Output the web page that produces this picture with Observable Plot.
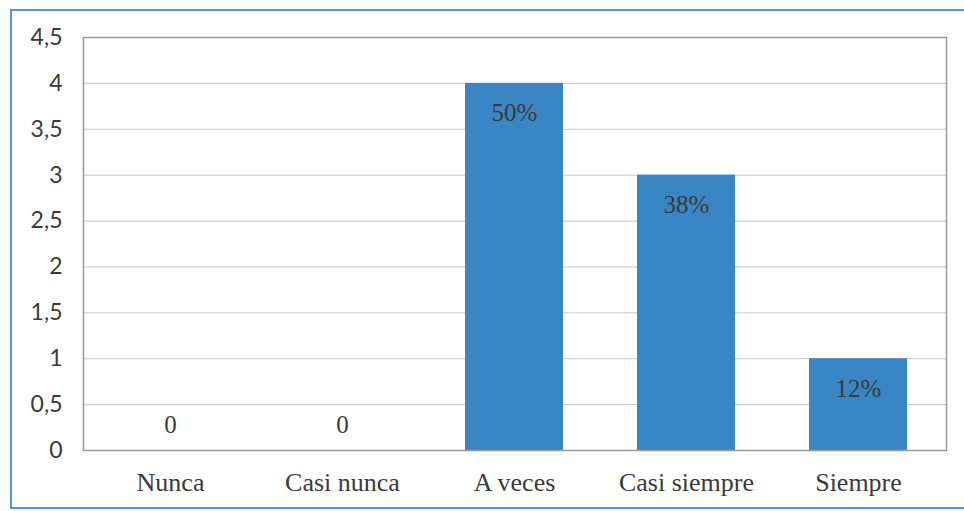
<!DOCTYPE html>
<html>
<head>
<meta charset="utf-8">
<script src="https://cdn.jsdelivr.net/npm/d3@7"></script>
<script src="https://cdn.jsdelivr.net/npm/@observablehq/plot@0.6"></script>
<style>
  html, body { margin: 0; padding: 0; background: #fff; overflow: hidden; width: 964px; height: 511px; }
  #wrap { position: relative; width: 964px; height: 511px; }
  #border { position: absolute; left: 10px; top: 9px; width: 970px; height: 496px; border: 2px solid #4f97e3; box-sizing: content-box; }
  #chart { position: absolute; left: 0; top: 0; }
</style>
</head>
<body>
<div id="wrap"><div id="border"></div><div id="chart"></div></div>
<script>
const categories = ["Nunca", "Casi nunca", "A veces", "Casi siempre", "Siempre"];
const values = [0, 0, 4, 3, 1];
const labels = ["0", "0", "50%", "38%", "12%"];
const yTicks = [0, 0.5, 1, 1.5, 2, 2.5, 3, 3.5, 4, 4.5];

const data = categories.map((c, i) => ({category: c, value: values[i], label: labels[i]}));
const fmt = v => String(v).replace(".", ",");

const chart = Plot.plot({
  width: 964,
  height: 511,
  marginLeft: 83,
  marginRight: 18,
  marginTop: 37,
  marginBottom: 61,
  style: {background: "transparent", color: "#3a3a3a"},
  x: {domain: categories, paddingInner: 0.43, paddingOuter: 0.215, label: null},
  y: {domain: [0, 4.5], label: null},
  marks: [
    Plot.ruleY(yTicks, {stroke: "#c6c2cc", strokeWidth: 1}),
    Plot.barY(data, {x: "category", y: "value", fill: "#3a86c5"}),
    Plot.frame({stroke: "#999", strokeWidth: 1.5}),
    Plot.axisY({ticks: yTicks, tickFormat: fmt, tickSize: 0, tickPadding: 21, fontSize: 23, fontFamily: "Lato", label: null}),
    Plot.axisX({tickSize: 0, tickPadding: 22, fontSize: 26, fontFamily: "Liberation Serif", label: null}),
    Plot.text(data.filter(d => d.value > 0), {x: "category", y: "value", text: "label", dy: 30, fontSize: 25, fontFamily: "Liberation Serif", fill: "#3a3a3a"}),
    Plot.text(data.filter(d => d.value === 0), {x: "category", y: "value", text: "label", dy: -26, fontSize: 25, fontFamily: "Liberation Serif", fill: "#3a3a3a"})
  ]
});
document.getElementById("chart").appendChild(chart);
</script>
</body>
</html>
